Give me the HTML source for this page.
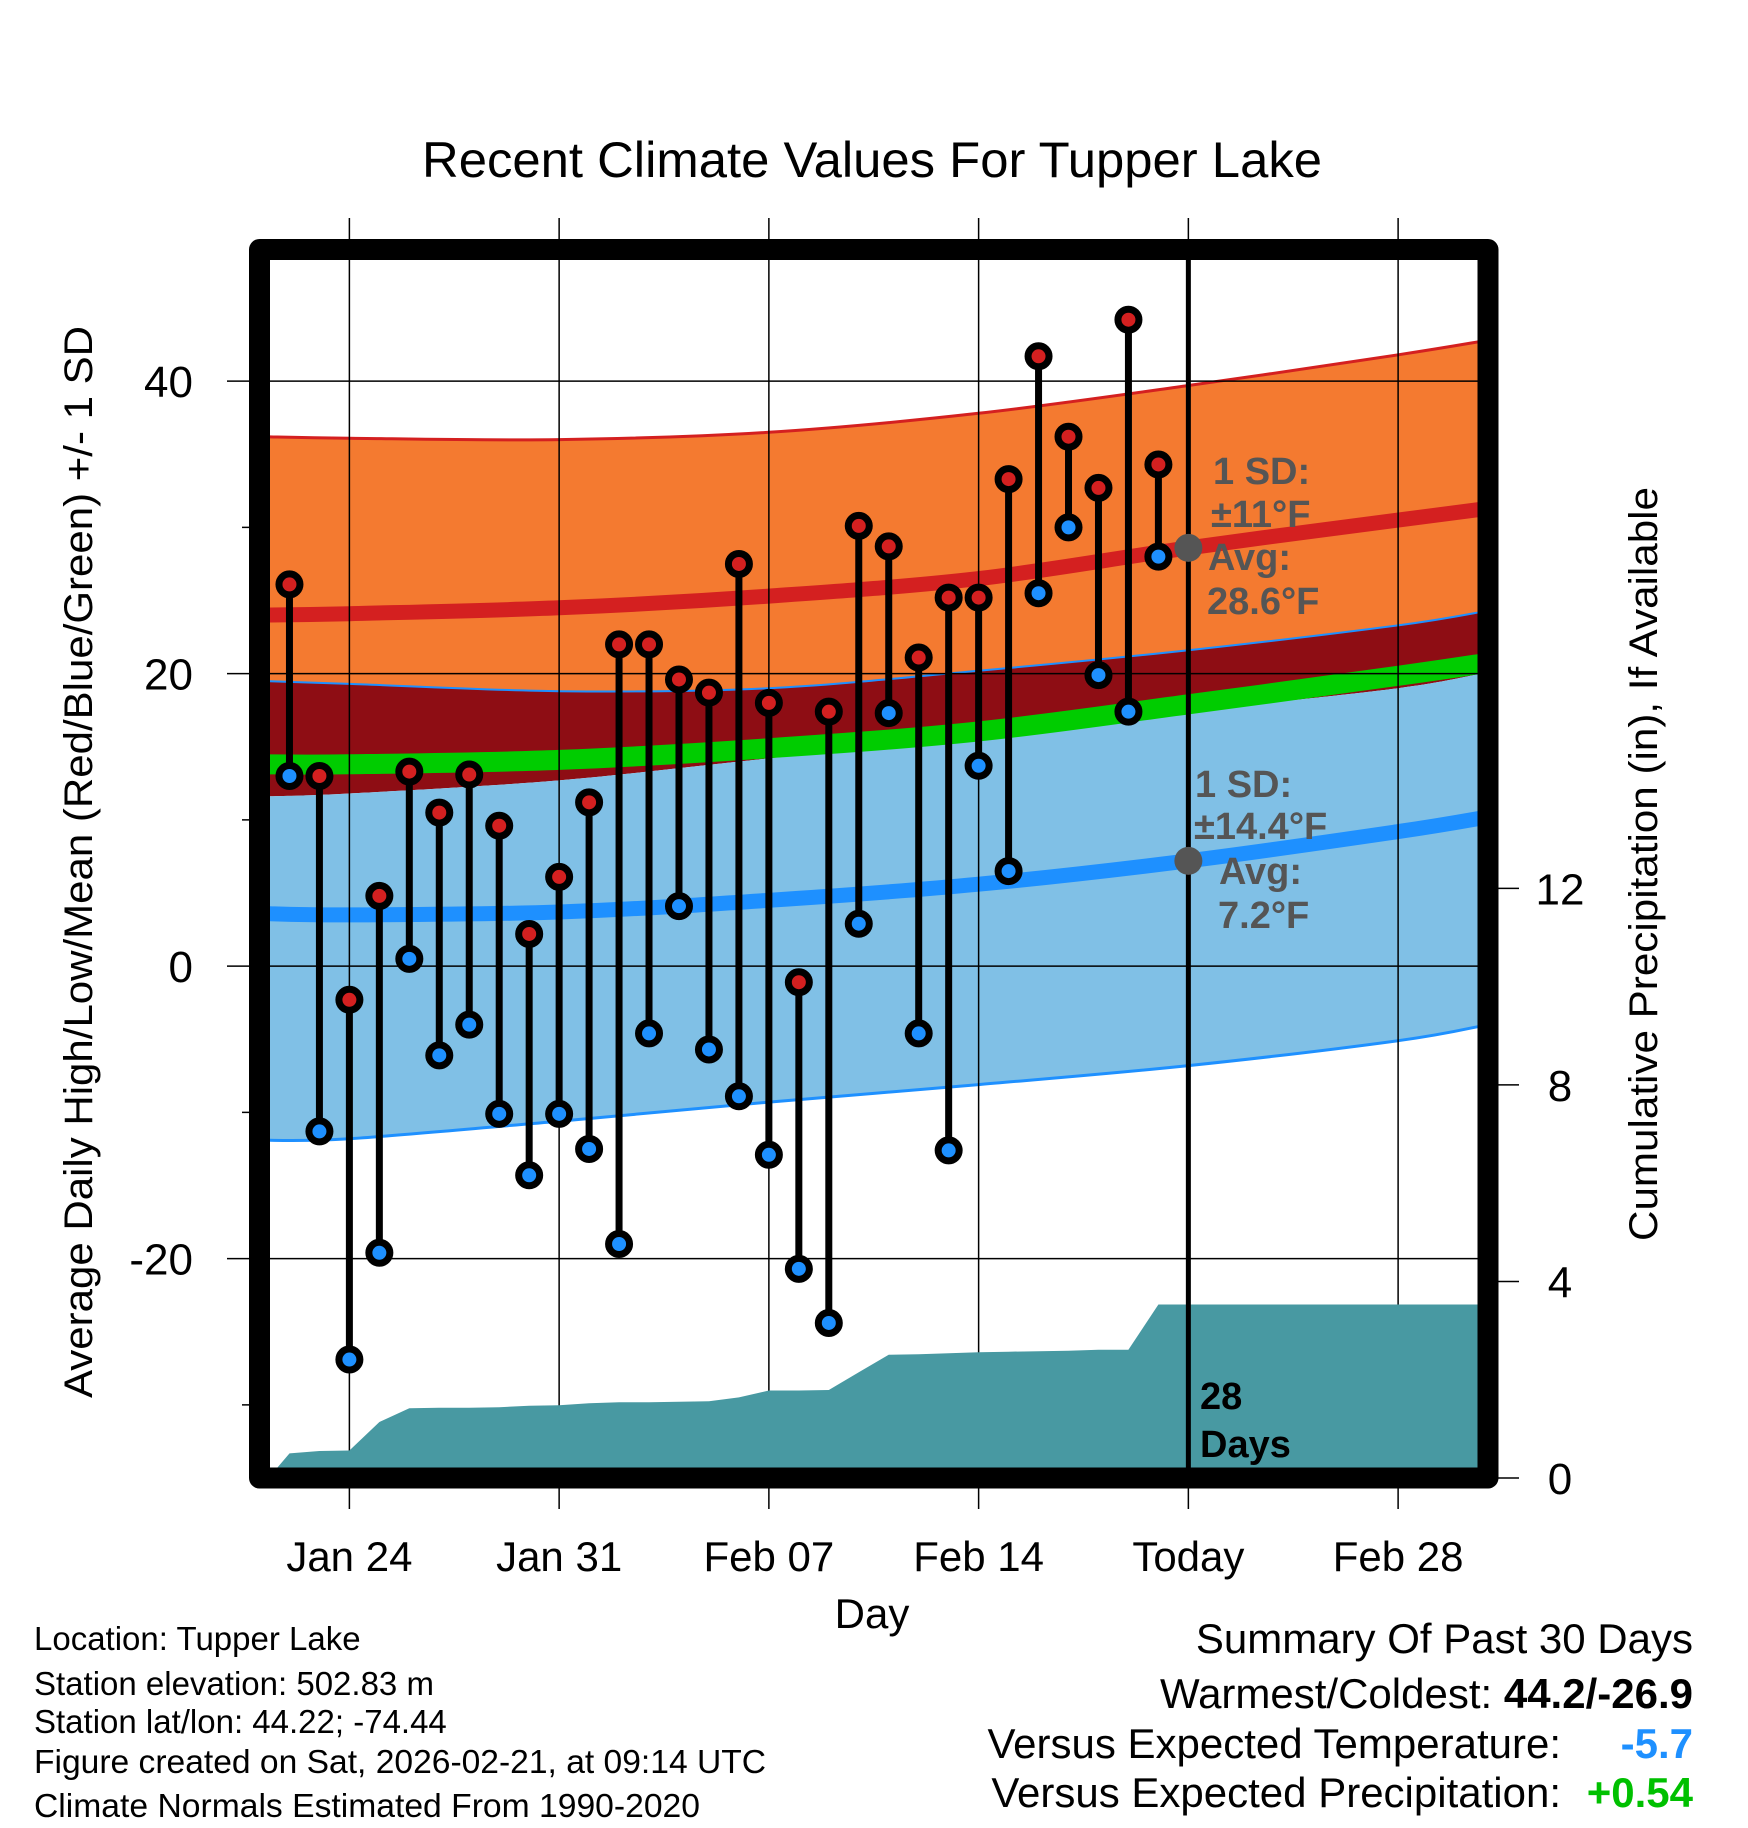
<!DOCTYPE html>
<html><head><meta charset="utf-8"><style>
html,body{margin:0;padding:0;background:#fff}
svg{display:block}
text{font-family:"Liberation Sans",Arial,sans-serif}
</style></head><body>
<svg id="chart" xmlns="http://www.w3.org/2000/svg" width="1748" height="1828" viewBox="0 0 1748 1828">
<g id="bands"></g>
<g id="grid"></g>
<g id="precip"></g>
<g id="marks"></g>
<g id="annot"></g>
<g id="axes"></g>
<text x="872" y="177" font-size="50" text-anchor="middle" textLength="900" lengthAdjust="spacingAndGlyphs">Recent Climate Values For Tupper Lake</text>
<text x="872" y="1628" font-size="42" text-anchor="middle">Day</text>
<text transform="translate(92,862) rotate(-90)" font-size="40" text-anchor="middle" textLength="1072" lengthAdjust="spacingAndGlyphs">Average Daily High/Low/Mean (Red/Blue/Green) +/- 1 SD</text>
<text transform="translate(1657,864) rotate(-90)" font-size="40" text-anchor="middle" textLength="754" lengthAdjust="spacingAndGlyphs">Cumulative Precipitation (in), If Available</text>
<g font-size="33">
<text x="34" y="1650">Location: Tupper Lake</text>
<text x="34" y="1695">Station elevation: 502.83 m</text>
<text x="34" y="1733">Station lat/lon: 44.22; -74.44</text>
<text x="34" y="1773" textLength="732" lengthAdjust="spacingAndGlyphs">Figure created on Sat, 2026-02-21, at 09:14 UTC</text>
<text x="34" y="1817" textLength="666" lengthAdjust="spacingAndGlyphs">Climate Normals Estimated From 1990-2020</text>
</g>
<g font-size="42" text-anchor="end">
<text x="1693" y="1653">Summary Of Past 30 Days</text>
<text x="1693" y="1708">Warmest/Coldest: <tspan font-weight="bold">44.2/-26.9</tspan></text>
<text x="1561" y="1758">Versus Expected Temperature:</text>
<text x="1693" y="1758" font-weight="bold" fill="#1E90FF">-5.7</text>
<text x="1561" y="1807">Versus Expected Precipitation:</text>
<text x="1693" y="1807" font-weight="bold" fill="#00C000">+0.54</text>
</g>
</svg>
<script>
// Data (day index: 0 = Jan 21)
const obsDays = [1,2,3,4,5,6,7,8,9,10,11,12,13,14,15,16,17,18,19,20,21,22,23,24,25,26,27,28,29,30];
const highs = [26.1,13.0,-2.3,4.8,13.3,10.5,13.1,9.6,2.2,6.1,11.2,22.0,22.0,19.6,18.7,27.5,18.0,-1.1,17.4,30.1,28.7,21.1,25.2,25.2,33.3,41.7,36.2,32.7,44.2,34.3];
const lows = [13.0,-11.3,-26.9,-19.6,0.5,-6.1,-4.0,-10.1,-14.3,-10.1,-12.5,-19.0,-4.6,4.1,-5.7,-8.9,-12.9,-20.7,-24.4,2.9,17.3,-4.6,-12.6,13.7,6.5,25.5,30.0,19.9,17.4,28.0];
const precipCum = [0.5,0.55,0.56,1.14,1.42,1.43,1.43,1.44,1.47,1.48,1.52,1.54,1.54,1.55,1.56,1.64,1.78,1.78,1.79,2.15,2.51,2.52,2.54,2.56,2.57,2.58,2.59,2.61,2.61,3.53];
const normDays = [0,3,10,17,24,31,38,41];
const highAvg = [24.0,24.1,24.5,25.3,26.5,28.6,30.5,31.3];
const highUp = [36.2,36.1,36.0,36.5,37.8,39.7,41.8,42.8];
const highDn = [19.5,19.3,18.8,19.0,20.2,21.6,23.3,24.3];
const lowAvg = [3.6,3.5,3.7,4.5,5.6,7.2,9.2,10.2];
const lowUp = [11.6,11.8,12.7,14.2,15.6,17.4,19.0,20.1];
const lowDn = [-11.9,-11.8,-10.6,-9.3,-8.1,-6.8,-5.1,-4.0];
const xTickDays = [3,10,17,24,31,38];
const xTickLabels = ["Jan 24","Jan 31","Feb 07","Feb 14","Today","Feb 28"];
const yTicks = [40,20,0,-20];
const yMinor = [30,10,-10,-30];
const pTicks = [0,4,8,12];
const todayDay = 31;

const NS="http://www.w3.org/2000/svg";
const L=259.5,R=1488,T=249.5,B=1478;
const X=d=>L+(d)/41*(R-L);
const Y=t=>B-(t+35)/84*(B-T);
const P=p=>B-p/25*(B-T);
function mk(tag,attrs,parent){const e=document.createElementNS(NS,tag);for(const k in attrs)e.setAttribute(k,attrs[k]);parent.appendChild(e);return e;}
function g(id){return document.getElementById(id);}
const bands=g('bands'),grid=g('grid'),precip=g('precip'),marks=g('marks'),annot=g('annot'),axes=g('axes');

const defs=mk('defs',{},g('chart'));
const cp=mk('clipPath',{id:'clip'},defs);
mk('rect',{x:270,y:260,width:1208,height:1208},cp);
[bands,precip].forEach(e=>e.setAttribute('clip-path','url(#clip)'));

// smooth path through knots (Catmull-Rom)
function pts(arr){return normDays.map((d,i)=>[X(d),Y(arr[i])]);}
function smooth(p){
  let s='M'+p[0][0].toFixed(1)+','+p[0][1].toFixed(1);
  for(let i=0;i<p.length-1;i++){
    const p0=p[Math.max(0,i-1)],p1=p[i],p2=p[i+1],p3=p[Math.min(p.length-1,i+2)];
    const c1=[p1[0]+(p2[0]-p0[0])/6,p1[1]+(p2[1]-p0[1])/6];
    const c2=[p2[0]-(p3[0]-p1[0])/6,p2[1]-(p3[1]-p1[1])/6];
    s+='C'+c1.map(v=>v.toFixed(1)).join(',')+' '+c2.map(v=>v.toFixed(1)).join(',')+' '+p2[0].toFixed(1)+','+p2[1].toFixed(1);
  }
  return s;
}
function band(up,dn){
  const a=smooth(pts(up));
  const b=smooth(pts(dn).reverse()).replace(/^M/,'L');
  return a+b+'Z';
}
let e;
e=mk('path',{d:band(highUp,highDn),fill:'#F47A30'},bands);


e=mk('path',{d:band(highDn,lowUp),fill:'#8E0D14'},bands);


e=mk('path',{d:band(lowUp,lowDn),fill:'#80C0E6'},bands);


const meanArr=highAvg.map((h,i)=>(h+lowAvg[i])/2);
e=mk('path',{d:smooth(pts(meanArr)),fill:'none',stroke:'#00CC00','stroke-width':20},bands);


e=mk('path',{d:smooth(pts(highUp)),fill:'none',stroke:'#D42020','stroke-width':3},bands);


e=mk('path',{d:smooth(pts(highDn)),fill:'none',stroke:'#1E90FF','stroke-width':2},bands);


e=mk('path',{d:smooth(pts(lowDn)),fill:'none',stroke:'#1E90FF','stroke-width':3},bands);


e=mk('path',{d:smooth(pts(highAvg)),fill:'none',stroke:'#D42020','stroke-width':15},bands);


e=mk('path',{d:smooth(pts(lowAvg)),fill:'none',stroke:'#1E90FF','stroke-width':15},bands);



xTickDays.forEach((d,i)=>{
  const l=mk('line',{x1:X(d),x2:X(d),y1:218,y2:1509,stroke:'#000','stroke-width':1.5},grid);
  
  
  const t=mk('text',{x:X(d),y:1571,'font-size':42,'text-anchor':'middle'},axes);
  t.textContent=xTickLabels[i];
  
  
});
yTicks.forEach(v=>{
  const l=mk('line',{x1:227,x2:1478,y1:Y(v),y2:Y(v),stroke:'#000','stroke-width':1.5},grid);
  
  
  const t=mk('text',{x:193,y:Y(v)+16,'font-size':44,'text-anchor':'end'},axes);
  t.textContent=v;
  
  
});
yMinor.forEach(v=>{
  const l=mk('line',{x1:242,x2:252,y1:Y(v),y2:Y(v),stroke:'#000','stroke-width':1.5},axes);
  
  
});
pTicks.forEach(v=>{
  const l=mk('line',{x1:1488,x2:1519,y1:P(v),y2:P(v),stroke:'#000','stroke-width':1.5},axes);
  
  
  const t=mk('text',{x:1560,y:P(v)+16,'font-size':44,'text-anchor':'middle'},axes);
  t.textContent=v;
  
  
});

let pd='M'+X(0.3)+','+P(0);
obsDays.forEach((d,i)=>{pd+='L'+X(d).toFixed(1)+','+P(precipCum[i]).toFixed(1);});
pd+='L'+X(41)+','+P(precipCum[precipCum.length-1]).toFixed(1)+'L'+X(41)+','+P(0)+'Z';
e=mk('path',{d:pd,fill:'#4899A2'},precip);



e=mk('line',{x1:X(todayDay),x2:X(todayDay),y1:249.5,y2:1478,stroke:'#000','stroke-width':5},marks);



obsDays.forEach((d,i)=>{
  const x=X(d);
  const s=mk('line',{x1:x,x2:x,y1:Y(highs[i]),y2:Y(lows[i]),stroke:'#000','stroke-width':7},marks);
  
  
});
obsDays.forEach((d,i)=>{
  const x=X(d);
  const h=mk('circle',{cx:x,cy:Y(highs[i]),r:10.5,fill:'#D42020',stroke:'#000','stroke-width':7},marks);
  
  
  const lo=mk('circle',{cx:x,cy:Y(lows[i]),r:10.5,fill:'#1E90FF',stroke:'#000','stroke-width':7},marks);
  
  
});

const tx=X(todayDay);
e=mk('circle',{cx:tx,cy:Y(highAvg[5]),r:14,fill:'#555'},annot);


e=mk('circle',{cx:tx,cy:Y(lowAvg[5]),r:14,fill:'#555'},annot);


const ann=[[1213,484,'1 SD:'],[1211,527,'±11°F'],[1208,570,'Avg:'],[1207,614,'28.6°F'],
[1195,797,'1 SD:'],[1194,839,'±14.4°F'],[1219,884,'Avg:'],[1218,928,'7.2°F']];
ann.forEach(a=>{
  const t=mk('text',{x:a[0],y:a[1],'font-size':38,'font-weight':'bold',fill:'#555'},annot);
  t.textContent=a[2];
  
  
});
[[1200,1409,'28'],[1200,1457,'Days']].forEach(a=>{
  const t=mk('text',{x:a[0],y:a[1],'font-size':38,'font-weight':'bold',fill:'#000'},annot);
  t.textContent=a[2];
  
  
});

e=mk('rect',{x:259.5,y:249.5,width:1228.5,height:1228.5,fill:'none',stroke:'#000','stroke-width':21,'stroke-linejoin':'round'},axes);


</script>
</body></html>
